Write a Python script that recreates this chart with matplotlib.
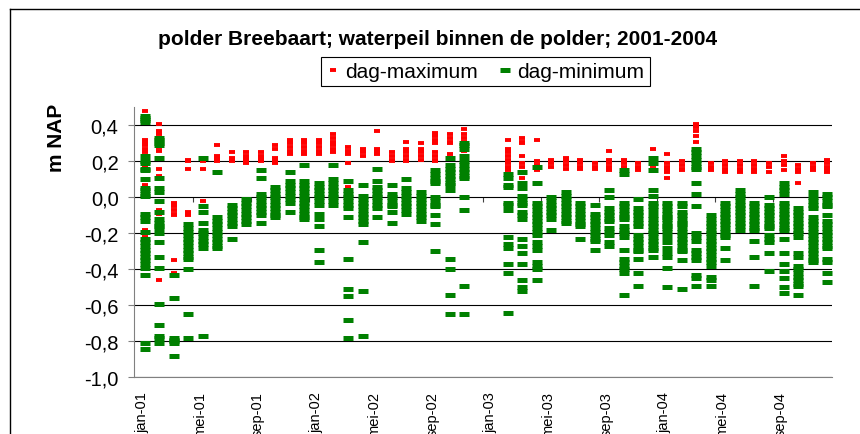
import matplotlib
matplotlib.use('Agg')
import matplotlib.pyplot as plt
from matplotlib.lines import Line2D

plt.rcParams['font.family'] = ['Liberation Sans', 'DejaVu Sans']

# labels op de x-as, om de 4 maanden
x_labels = ['jan-01', 'mei-01', 'sep-01', 'jan-02', 'mei-02', 'sep-02',
            'jan-03', 'mei-03', 'sep-03', 'jan-04', 'mei-04', 'sep-04']
y_ticks = [-1.0, -0.8, -0.6, -0.4, -0.2, 0.0, 0.2, 0.4]

# dag-maximum (m NAP), per maand een lijst met dagwaarden
max_2001 = [
    [0.48, 0.32, 0.30, 0.29, 0.27, 0.25, 0.17, 0.15, 0.07, -0.18, -0.22],
    [0.41, 0.37, 0.35, 0.33, 0.32, 0.28, 0.26, 0.16, 0.12, -0.07, -0.09, -0.46],
    [-0.03, -0.05, -0.07, -0.09, -0.10, -0.35, -0.42],
    [0.21, 0.20, 0.16, -0.08, -0.10],
    [0.22, 0.20, 0.16, -0.02],
    [0.29, 0.23, 0.22, 0.21, 0.20],
    [0.25, 0.22, 0.21, 0.20],
    [0.25, 0.23, 0.22, 0.20, 0.19],
    [0.25, 0.23, 0.22, 0.20],
    [0.29, 0.27, 0.22, 0.21, 0.19],
    [0.32, 0.30, 0.28, 0.26, 0.24],
    [0.32, 0.30, 0.28, 0.26, 0.24],
]
max_2002 = [
    [0.32, 0.30, 0.28, 0.26, 0.24],
    [0.35, 0.33, 0.31, 0.29, 0.27, 0.25],
    [0.28, 0.26, 0.24, 0.19, 0.06],
    [0.27, 0.25, 0.23],
    [0.37, 0.27, 0.25, 0.24],
    [0.25, 0.23, 0.21, 0.20],
    [0.31, 0.27, 0.25, 0.23, 0.21, 0.20],
    [0.30, 0.27, 0.25, 0.23, 0.21],
    [0.36, 0.34, 0.32, 0.30, 0.25, 0.23, 0.21, 0.20],
    [0.35, 0.33, 0.31, 0.30, 0.24],
    [0.38, 0.35, 0.33, 0.31, 0.29, 0.27, 0.26],
    [],
]
max_2003 = [
    [],
    [0.32, 0.27, 0.25, 0.23, 0.21, 0.19, 0.17, 0.15, 0.10],
    [0.33, 0.31, 0.30, 0.23, 0.19, 0.17, 0.11],
    [0.32, 0.20, 0.18, 0.17, 0.15],
    [0.21, 0.19, 0.17],
    [0.22, 0.20, 0.18, 0.16],
    [0.21, 0.19, 0.17, 0.16],
    [0.19, 0.17, 0.16],
    [0.26, 0.21, 0.19, 0.17, 0.15],
    [0.21, 0.19, 0.17, 0.15],
    [0.19, 0.17, 0.15],
    [0.27, 0.20, 0.18, 0.16],
]
max_2004 = [
    [0.24, 0.19, 0.17, 0.15, 0.14, 0.11],
    [0.20, 0.18, 0.16, 0.15],
    [0.41, 0.39, 0.37, 0.34, 0.31, 0.26, 0.24, 0.22, 0.20, 0.18, 0.16],
    [0.19, 0.17, 0.15],
    [0.20, 0.18, 0.16, 0.14],
    [0.20, 0.18, 0.16, 0.14],
    [0.20, 0.18, 0.16, 0.14],
    [0.19, 0.17, 0.14],
    [0.23, 0.20, 0.18, 0.15],
    [0.18, 0.16, 0.14, 0.08],
    [0.19, 0.17, 0.15],
    [0.21, 0.19, 0.17, 0.15, 0.14],
]

# dag-minimum (m NAP)
min_2001 = [
    [0.45, 0.44, 0.43, 0.42, 0.23, 0.20, 0.19, 0.16, 0.15, 0.10, 0.05, 0.04, 0.02, 0.01,
     -0.09, -0.11, -0.13, -0.19, -0.23, -0.25, -0.27, -0.29, -0.31, -0.33, -0.35, -0.37,
     -0.39, -0.43, -0.81, -0.84],
    [0.33, 0.32, 0.30, 0.29, 0.22, 0.11, 0.05, 0.03, -0.02, -0.08, -0.12, -0.14, -0.16,
     -0.17, -0.20, -0.25, -0.33, -0.39, -0.59, -0.71, -0.77, -0.78, -0.81],
    [-0.43, -0.56, -0.78, -0.79, -0.80, -0.81, -0.88],
    [-0.15, -0.17, -0.19, -0.21, -0.23, -0.25, -0.27, -0.29, -0.31, -0.33, -0.34, -0.40,
     -0.65, -0.78],
    [0.22, -0.05, -0.08, -0.14, -0.18, -0.20, -0.22, -0.24, -0.26, -0.28, -0.77],
    [0.14, -0.11, -0.13, -0.15, -0.17, -0.19, -0.21, -0.23, -0.25, -0.27, -0.28],
    [-0.04, -0.06, -0.08, -0.10, -0.12, -0.14, -0.16, -0.23],
    [-0.01, -0.03, -0.05, -0.07, -0.09, -0.11, -0.13, -0.15],
    [0.15, 0.11, 0.02, 0.00, -0.02, -0.04, -0.06, -0.08, -0.10, -0.14],
    [0.06, 0.04, 0.02, 0.00, -0.02, -0.04, -0.06, -0.08, -0.10, -0.11],
    [0.14, 0.09, 0.07, 0.05, 0.03, 0.01, -0.01, -0.03, -0.08],
    [0.18, 0.09, 0.07, 0.05, 0.03, 0.01, -0.01, -0.03, -0.05, -0.07, -0.09, -0.11, -0.12],
]
min_2002 = [
    [0.08, 0.06, 0.04, 0.02, 0.00, -0.02, -0.04, -0.09, -0.12, -0.16, -0.29, -0.36],
    [0.18, 0.10, 0.08, 0.06, 0.04, 0.02, 0.00, -0.02, -0.04],
    [0.09, 0.04, 0.02, 0.00, -0.02, -0.04, -0.06, -0.11, -0.34, -0.51, -0.55, -0.68, -0.78],
    [0.07, 0.01, -0.01, -0.03, -0.05, -0.07, -0.09, -0.11, -0.13, -0.15, -0.25, -0.52, -0.77],
    [0.16, 0.09, 0.06, 0.04, 0.02, 0.00, -0.02, -0.04, -0.06, -0.11],
    [0.07, 0.02, 0.00, -0.02, -0.04, -0.05, -0.08, -0.14],
    [0.10, 0.05, 0.03, 0.01, -0.01, -0.03, -0.05, -0.07, -0.09],
    [0.03, 0.01, -0.01, -0.03, -0.05, -0.07, -0.09, -0.11, -0.13],
    [0.15, 0.13, 0.11, 0.09, 0.08, 0.00, -0.02, -0.04, -0.05, -0.10, -0.15, -0.30],
    [0.22, 0.18, 0.16, 0.14, 0.12, 0.10, 0.08, 0.07, 0.04, -0.34, -0.40, -0.54, -0.65],
    [0.30, 0.29, 0.27, 0.23, 0.20, 0.18, 0.16, 0.14, 0.12, 0.11, 0.00, -0.07, -0.49, -0.65],
    [],
]
min_2003 = [
    [],
    [0.13, 0.11, 0.07, 0.06, -0.03, -0.04, -0.07, -0.22, -0.26, -0.28, -0.37, -0.42, -0.64],
    [0.14, 0.08, 0.05, 0.01, -0.01, -0.03, -0.04, -0.08, -0.10, -0.12, -0.23, -0.27, -0.31,
     -0.37, -0.46, -0.50, -0.52],
    [0.17, 0.08, -0.03, -0.05, -0.07, -0.09, -0.11, -0.13, -0.15, -0.17, -0.19, -0.21,
     -0.25, -0.27, -0.29, -0.36, -0.38, -0.40, -0.46],
    [0.00, -0.02, -0.04, -0.06, -0.08, -0.10, -0.12, -0.18],
    [0.03, 0.01, -0.01, -0.03, -0.05, -0.07, -0.09, -0.11, -0.13, -0.14],
    [-0.03, -0.05, -0.07, -0.09, -0.11, -0.13, -0.15, -0.16, -0.23],
    [-0.04, -0.09, -0.11, -0.13, -0.15, -0.17, -0.19, -0.21, -0.23, -0.24, -0.29],
    [0.04, 0.00, -0.06, -0.08, -0.10, -0.12, -0.13, -0.17, -0.19, -0.21, -0.25, -0.27],
    [0.15, 0.13, -0.03, -0.05, -0.07, -0.09, -0.11, -0.12, -0.16, -0.18, -0.20, -0.22,
     -0.29, -0.34, -0.36, -0.38, -0.40, -0.42, -0.54],
    [-0.01, -0.06, -0.08, -0.10, -0.12, -0.14, -0.16, -0.21, -0.23, -0.25, -0.27, -0.29,
     -0.30, -0.34, -0.42, -0.49],
    [0.22, 0.19, 0.15, 0.04, 0.01, -0.03, -0.05, -0.07, -0.10, -0.12, -0.14, -0.16, -0.18,
     -0.20, -0.22, -0.24, -0.26, -0.28, -0.29, -0.33],
]
min_2004 = [
    [-0.03, -0.05, -0.07, -0.09, -0.11, -0.12, -0.14, -0.16, -0.17, -0.19, -0.22, -0.25,
     -0.28, -0.31, -0.33, -0.39, -0.50],
    [-0.03, -0.05, -0.08, -0.10, -0.12, -0.14, -0.15, -0.17, -0.19, -0.21, -0.23, -0.25,
     -0.27, -0.29, -0.30, -0.35, -0.51],
    [0.27, 0.25, 0.23, 0.21, 0.19, 0.17, 0.16, 0.08, 0.02, -0.05, -0.20, -0.22, -0.24,
     -0.29, -0.31, -0.33, -0.35, -0.43, -0.45, -0.49],
    [-0.10, -0.12, -0.14, -0.16, -0.18, -0.20, -0.22, -0.24, -0.26, -0.28, -0.30, -0.32,
     -0.34, -0.36, -0.38, -0.44, -0.46, -0.49],
    [-0.03, -0.05, -0.07, -0.09, -0.11, -0.13, -0.15, -0.17, -0.19, -0.21, -0.22, -0.28, -0.35],
    [0.04, 0.02, 0.00, -0.02, -0.04, -0.06, -0.08, -0.10, -0.12, -0.14, -0.16, -0.18],
    [-0.03, -0.05, -0.07, -0.09, -0.11, -0.13, -0.15, -0.17, -0.18, -0.24, -0.33, -0.49],
    [0.00, -0.04, -0.06, -0.08, -0.10, -0.12, -0.14, -0.16, -0.17, -0.21, -0.23, -0.25,
     -0.31, -0.41],
    [0.08, 0.06, 0.04, 0.02, -0.03, -0.05, -0.07, -0.09, -0.11, -0.13, -0.15, -0.17, -0.18,
     -0.23, -0.31, -0.37, -0.41, -0.45, -0.50, -0.53],
    [-0.06, -0.08, -0.10, -0.12, -0.14, -0.16, -0.18, -0.20, -0.22, -0.31, -0.33, -0.38,
     -0.40, -0.42, -0.44, -0.46, -0.48, -0.49, -0.54],
    [0.03, 0.00, -0.02, -0.04, -0.06, -0.11, -0.13, -0.15, -0.17, -0.19, -0.21, -0.23,
     -0.25, -0.27, -0.29, -0.31, -0.33, -0.35, -0.36],
    [0.02, 0.00, -0.02, -0.04, -0.05, -0.10, -0.13, -0.15, -0.17, -0.19, -0.21, -0.23,
     -0.25, -0.27, -0.28, -0.34, -0.36, -0.42, -0.47],
]


def spread(per_month):
    # alle dagen van een maand komen op dezelfde x (datum-as per maand)
    xs, ys = [], []
    for i, vals in enumerate(per_month):
        xs += [i] * len(vals)
        ys += vals
    return xs, ys


x_max, y_max = spread(max_2001 + max_2002 + max_2003 + max_2004)
x_min, y_min = spread(min_2001 + min_2002 + min_2003 + min_2004)

red = '#FF0000'
green = '#008000'
red_style = dict(linestyle='none', marker='_', markersize=4.0, markeredgewidth=2.8, color=red)
green_style = dict(linestyle='none', marker='_', markersize=6.6, markeredgewidth=3.6, color=green)

fig = plt.figure(figsize=(8.6, 4.35), dpi=100)
ax = fig.add_axes([134.3 / 860, 1 - 378.3 / 435, (831.7 - 134.3) / 860, 270 / 435])

ax.plot(x_max, y_max, **red_style)
ax.plot(x_min, y_min, **green_style)

ax.set_xlim(-0.72, 47.32)
ax.set_ylim(-1.0, 0.5)

ax.set_yticks(y_ticks, [f'{v:.1f}'.replace('.', ',') for v in y_ticks])
ax.grid(axis='y', color='black', linewidth=0.8)
ax.set_axisbelow(True)
ax.tick_params(axis='y', direction='out', length=4.3, width=0.8, color='#808080',
               pad=7, labelsize=14.5)

ax.set_xticks([4 * k - 0.2 for k in range(len(x_labels))], x_labels, rotation=90)
ax.tick_params(axis='x', length=0, pad=10, labelsize=10.5)

ax.spines['top'].set_visible(False)
ax.spines['right'].set_visible(False)
ax.spines['left'].set_color('#808080')
ax.spines['left'].set_linewidth(0.8)
ax.spines['bottom'].set_color('#808080')
ax.spines['bottom'].set_linewidth(0.8)

# horizontale as kruist bij 0: maatstreepjes op de nullijn
sec = ax.secondary_xaxis(2 / 3)
sec.set_xticks([4 * k + 3.3 for k in range(11)])
sec.tick_params(direction='in', length=3.6, width=0.8, color='#404040',
                labeltop=False, labelbottom=False)
sec.spines['top'].set_visible(False)
sec.spines['bottom'].set_visible(False)

fig.text(57 / 860, 1 - 138 / 435, 'm NAP', rotation=90, ha='center', va='center',
         fontsize=15, fontweight='bold')
fig.text(437.5 / 860, 1 - 39.5 / 435,
         'polder Breebaart; waterpeil binnen de polder; 2001-2004',
         ha='center', va='center', fontsize=15, fontweight='bold')

handles = [Line2D([], [], **red_style), Line2D([], [], **green_style)]
leg = fig.legend(handles, ['dag-maximum', 'dag-minimum'], loc='center',
                 bbox_to_anchor=(485.5 / 860, 1 - 72.5 / 435), ncol=2,
                 fancybox=False, edgecolor='black', framealpha=1, fontsize=15,
                 handlelength=0.6, handletextpad=0.3, columnspacing=1.0, borderpad=0.25)
leg.get_frame().set_linewidth(0.8)

# rand van het grafiekgebied
fig.add_artist(Line2D([10 / 860, 10 / 860], [0, 1 - 10 / 435], color='black', linewidth=1))
fig.add_artist(Line2D([10 / 860, 1], [1 - 10 / 435, 1 - 10 / 435], color='black', linewidth=1))

fig.savefig('out.png', dpi=100)
